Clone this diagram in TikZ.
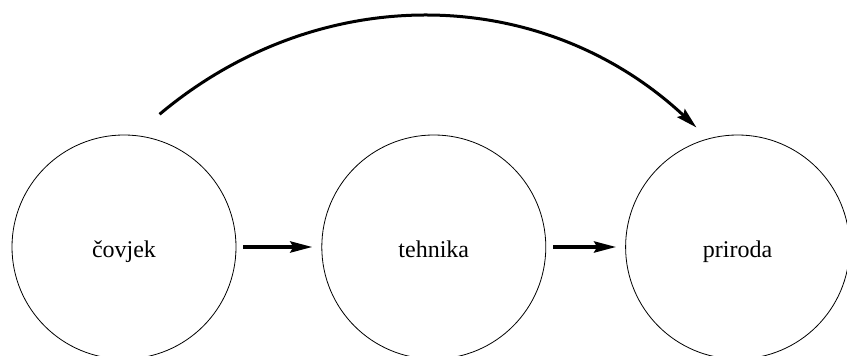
\documentclass[tikz,border=0pt]{standalone}
\usepackage{fontspec}
\setmainfont{Liberation Serif}
\usetikzlibrary{arrows.meta, positioning}

\begin{document}
\begin{tikzpicture}[x=1pt, y=1pt,
   every node/.style={font=\fontsize{24}{28}\selectfont},
   krug/.style={draw, circle, line width=0.8pt, minimum size=224pt,
                text height=22pt, text depth=0pt},
   tok/.style={line width=3.8pt, -{Stealth[length=22pt, width=11pt, inset=3pt]},
               shorten <=7pt, shorten >=9pt}]
  \useasboundingbox (0,0) rectangle (847,356);

  \node[krug] (covjek) at (124,109) {čovjek};
  \node[krug, right=85pt of covjek] (tehnika) {tehnika};
  \node[krug, right=79pt of tehnika] (priroda) {priroda};

  \draw[tok] (covjek) -- (tehnika);
  \draw[tok] (tehnika) -- (priroda);

  % luk iznad krugova
  \draw[line width=3pt, -{Stealth[length=21pt, width=11pt, inset=3pt]}]
       ([shift={(75:25pt)}]covjek.75) to[out=40, in=137]
       ([shift={(109:14pt)}]priroda.109);
\end{tikzpicture}
\end{document}
